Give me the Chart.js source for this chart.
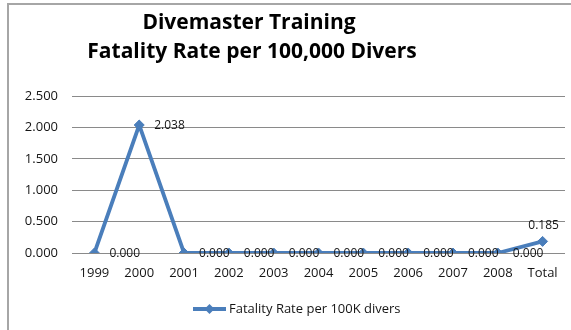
<!DOCTYPE html>
<html>
<head>
<meta charset="utf-8">
<script src="https://cdn.jsdelivr.net/npm/chart.js@4/dist/chart.umd.min.js"></script>
<style>
  html, body { margin: 0; padding: 0; background: #ffffff; }
  #wrap { width: 571px; height: 330px; }
</style>
</head>
<body>
<div id="wrap"><canvas id="chart" width="571" height="330"></canvas></div>
<script>
// Divemaster training fatality rate per 100,000 divers, by year plus overall total
const categories = ['1999', '2000', '2001', '2002', '2003', '2004', '2005', '2006', '2007', '2008', 'Total'];
const fatalityRate = [0.000, 2.038, 0.000, 0.000, 0.000, 0.000, 0.000, 0.000, 0.000, 0.000, 0.185];
const seriesLabel = 'Fatality Rate per 100K divers';
const titleLines = ['Divemaster Training', 'Fatality Rate per 100,000 Divers'];
const yMin = 0, yMax = 2.5, yStep = 0.5;

const LINE_COLOR = '#4A7EBB';
const TEXT_COLOR = '#151515';
const FONT = '"Open Sans", "DejaVu Sans", sans-serif';

// Outer frame and the two-line heading
const framePlugin = {
  id: 'frameAndTitle',
  beforeDraw(chart) {
    const ctx = chart.ctx;
    ctx.save();
    ctx.fillStyle = '#ffffff';
    ctx.fillRect(0, 0, chart.width, chart.height);
    ctx.strokeStyle = '#a6a6a6';
    ctx.lineWidth = 2;
    ctx.beginPath();
    ctx.moveTo(8, chart.height);
    ctx.lineTo(8, 4);
    ctx.lineTo(chart.width, 4);
    ctx.stroke();
    ctx.restore();
  },
  afterDraw(chart) {
    const ctx = chart.ctx;
    ctx.save();
    ctx.fillStyle = '#000000';
    ctx.font = 'bold 21px ' + FONT;
    ctx.textAlign = 'center';
    ctx.textBaseline = 'middle';
    ctx.fillText(titleLines[0], 249, 23);
    ctx.fillText(titleLines[1], 252, 52);
    ctx.restore();
  }
};

// Value labels beside each point; the last one sits above its point
const valueLabels = {
  id: 'valueLabels',
  afterDatasetsDraw(chart) {
    const ctx = chart.ctx;
    const meta = chart.getDatasetMeta(0);
    const data = chart.data.datasets[0].data;
    ctx.save();
    ctx.font = '12px ' + FONT;
    ctx.fillStyle = TEXT_COLOR;
    ctx.textBaseline = 'middle';
    meta.data.forEach((pt, i) => {
      const txt = Number(data[i]).toFixed(3);
      if (i === data.length - 1) {
        ctx.textAlign = 'center';
        ctx.fillText(txt, pt.x + 1, pt.y - 16);
      } else {
        ctx.textAlign = 'left';
        ctx.fillText(txt, pt.x + 15, pt.y + 1);
      }
    });
    ctx.restore();
  }
};

// Legend: line sample with a diamond marker, then the series name
const legendPlugin = {
  id: 'lineLegend',
  afterDraw(chart) {
    const ctx = chart.ctx;
    const y = 309, x0 = 193, x1 = 226;
    ctx.save();
    ctx.strokeStyle = LINE_COLOR;
    ctx.fillStyle = LINE_COLOR;
    ctx.lineWidth = 4;
    ctx.beginPath();
    ctx.moveTo(x0, y);
    ctx.lineTo(x1, y);
    ctx.stroke();
    const cx = (x0 + x1) / 2, r = 5;
    ctx.beginPath();
    ctx.moveTo(cx, y - r);
    ctx.lineTo(cx + r, y);
    ctx.lineTo(cx, y + r);
    ctx.lineTo(cx - r, y);
    ctx.closePath();
    ctx.fill();
    ctx.fillStyle = TEXT_COLOR;
    ctx.font = '13px ' + FONT;
    ctx.textAlign = 'left';
    ctx.textBaseline = 'middle';
    ctx.fillText(chart.data.datasets[0].label, x1 + 3, y);
    ctx.restore();
  }
};

new Chart(document.getElementById('chart'), {
  type: 'line',
  data: {
    labels: categories,
    datasets: [{
      label: seriesLabel,
      data: fatalityRate,
      borderColor: LINE_COLOR,
      backgroundColor: LINE_COLOR,
      borderWidth: 3.8,
      tension: 0,
      pointStyle: 'rectRot',
      pointRadius: 5,
      pointBorderWidth: 1,
      pointBackgroundColor: LINE_COLOR,
      pointBorderColor: LINE_COLOR,
      fill: false
    }]
  },
  options: {
    responsive: false,
    animation: false,
    devicePixelRatio: 1,
    layout: { padding: { top: 96, right: 2, bottom: 47, left: 0 } },
    plugins: {
      legend: { display: false },
      title: { display: false },
      tooltip: { enabled: false }
    },
    scales: {
      x: {
        offset: true,
        grid: { display: false, drawTicks: false },
        border: { display: false },
        ticks: {
          padding: 12,
          color: TEXT_COLOR,
          font: { family: FONT, size: 13 },
          maxRotation: 0,
          autoSkip: false
        },
        afterFit(scale) { scale.height = 30; }
      },
      y: {
        min: yMin,
        max: yMax,
        grid: { color: '#8a8a8a', lineWidth: 1, drawTicks: false },
        border: { display: false },
        ticks: {
          stepSize: yStep,
          padding: 14,
          color: TEXT_COLOR,
          font: { family: FONT, size: 13 },
          callback: (v) => Number(v).toFixed(3)
        },
        afterFit(scale) { scale.width = 72; }
      }
    }
  },
  plugins: [framePlugin, valueLabels, legendPlugin]
});
</script>
</body>
</html>
